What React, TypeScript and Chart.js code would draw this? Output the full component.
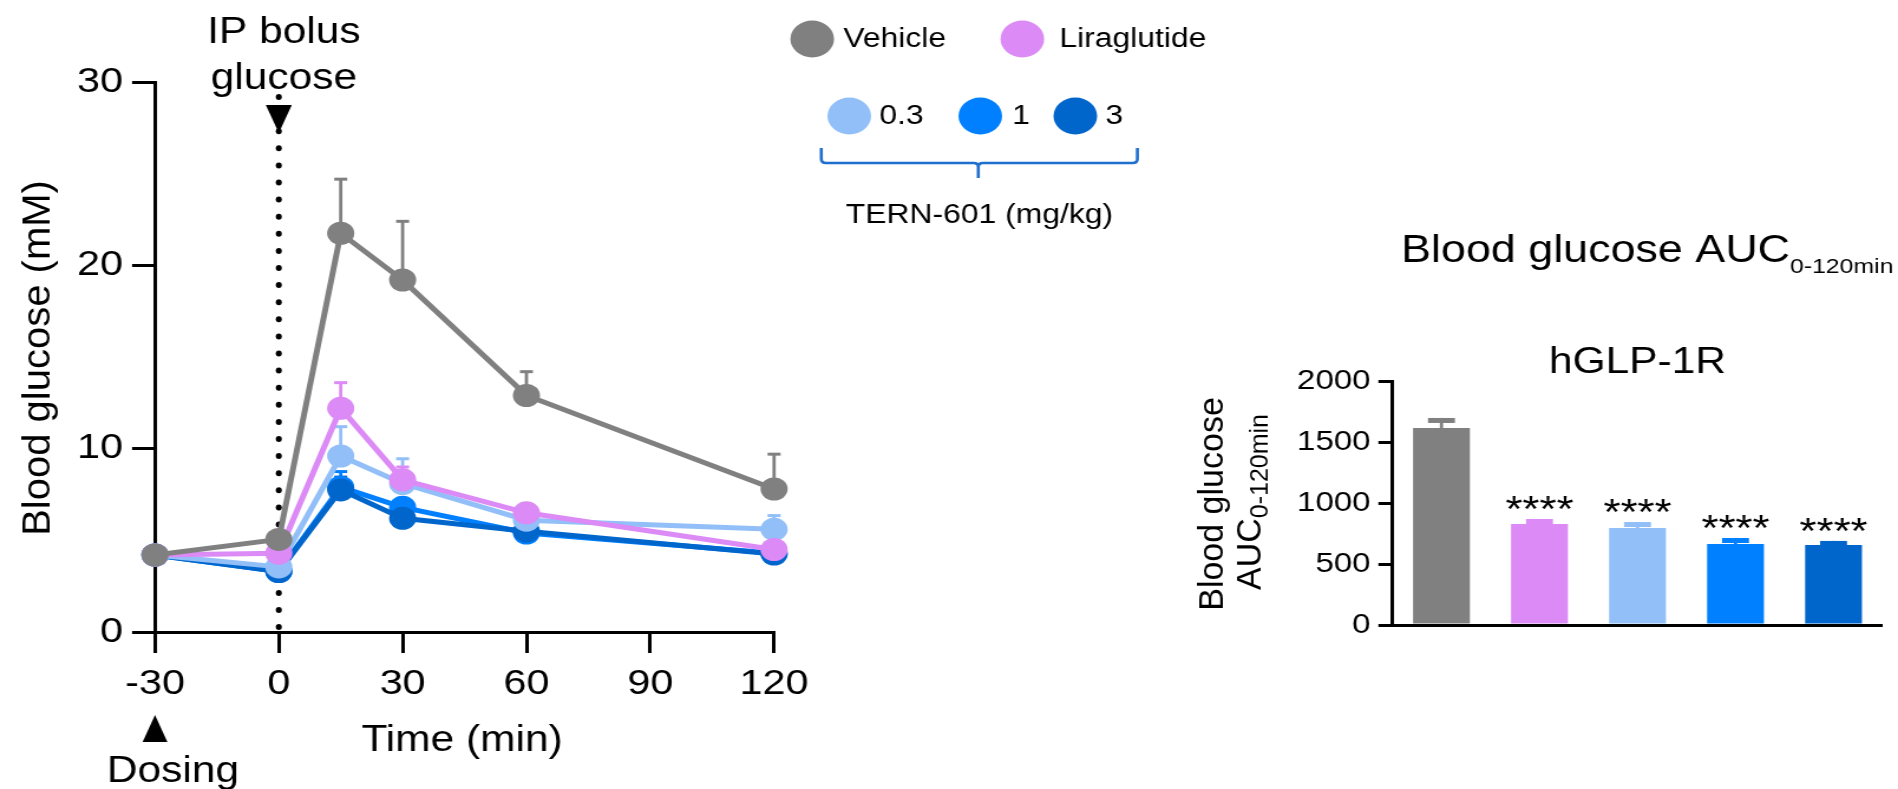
import React, { useEffect, useRef } from 'react';
import { Chart, registerables } from 'chart.js';

Chart.register(...registerables);

// ---------- page geometry (canvas is drawn narrower and stretched horizontally, like the reference) ----------
const VIEW_W = 1898;
const VIEW_H = 789;
const CANVAS_W = 1608;
const K = VIEW_W / CANVAS_W;
const FONT = '"Liberation Sans", Arimo, Arial, Helvetica, sans-serif';

// ---------- line chart data (Blood glucose, mM) ----------
const timePoints = [-30, 0, 15, 30, 60, 120];
const xTickValues = [-30, 0, 30, 60, 90, 120];
const yTickValues = [0, 10, 20, 30];

const seriesLabels = ['Vehicle', 'Liraglutide', '0.3', '1', '3'];
const seriesColors = ['#808080', '#dc8af5', '#92bff8', '#0080ff', '#0066cc'];
const drawOrder = [0, 1, 2, 4, 3];

const vehicleMean = [4.2, 5.05, 21.75, 19.2, 12.9, 7.8];
const vehicleSem = [0, 0, 2.95, 3.2, 1.3, 1.9];
const liraMean = [4.2, 4.3, 12.2, 8.3, 6.5, 4.5];
const liraSem = [0, 0, 1.4, 0.7, 0, 0];
const tern03Mean = [4.2, 3.55, 9.6, 8.1, 6.1, 5.6];
const tern03Sem = [0, 0, 1.6, 1.35, 0, 0.75];
const tern1Mean = [4.2, 3.3, 7.9, 6.8, 5.4, 4.3];
const tern1Sem = [0, 0, 0.85, 0.4, 0, 0];
const tern3Mean = [4.2, 3.3, 7.75, 6.2, 5.5, 4.25];
const tern3Sem = [0, 0, 0.7, 0.4, 0, 0];

const seriesMeans = [vehicleMean, liraMean, tern03Mean, tern1Mean, tern3Mean];
const seriesSems = [vehicleSem, liraSem, tern03Sem, tern1Sem, tern3Sem];

// ---------- bar chart data (AUC 0-120 min) ----------
const aucGroups = ['Vehicle', 'Liraglutide', 'TERN-601 0.3', 'TERN-601 1', 'TERN-601 3'];
const aucMean = [1615, 828, 795, 664, 656];
const aucSem = [82, 41, 49, 49, 33];
const aucStars = ['', '****', '****', '****', '****'];
const aucTickValues = [0, 500, 1000, 1500, 2000];

// ---------- helpers ----------
function rotatedText(ctx: CanvasRenderingContext2D, parts: { text: string; size: number; dy: number }[], x: number, y: number) {
  ctx.save();
  ctx.translate(x, y);
  ctx.scale(1 / K, 1);
  ctx.rotate(-Math.PI / 2);
  ctx.textAlign = 'left';
  ctx.textBaseline = 'alphabetic';
  let total = 0;
  const widths = parts.map((p) => {
    ctx.font = `${p.size}px ${FONT}`;
    const w = ctx.measureText(p.text).width;
    total += w;
    return w;
  });
  let cx = -total / 2;
  parts.forEach((p, i) => {
    ctx.font = `${p.size}px ${FONT}`;
    ctx.fillText(p.text, cx, p.dy);
    cx += widths[i];
  });
  ctx.restore();
}

const lineDecor = {
  id: 'lineDecor',
  beforeDatasetsDraw(chart: any) {
    const { ctx } = chart;
    const xs = chart.scales.x;
    const ys = chart.scales.y;
    const x0 = xs.getPixelForValue(0);
    ctx.save();
    // dotted line at glucose bolus
    ctx.fillStyle = '#000';
    for (let yy = 97; yy <= 628; yy += 17.1) {
      ctx.beginPath();
      ctx.ellipse(x0, yy, 3 / K, 3, 0, 0, Math.PI * 2);
      ctx.fill();
    }
    // error bars (upper SEM)
    const idx = seriesLabels.map((_, i) => i).sort((a, b) => drawOrder[b] - drawOrder[a]);
    idx.forEach((i) => {
      ctx.strokeStyle = seriesColors[i];
      timePoints.forEach((t, j) => {
        const s = seriesSems[i][j];
        if (!s) return;
        const px = xs.getPixelForValue(t);
        const p0 = ys.getPixelForValue(seriesMeans[i][j]);
        const p1 = ys.getPixelForValue(seriesMeans[i][j] + s);
        ctx.lineWidth = 2.8;
        ctx.beginPath();
        ctx.moveTo(px, p0);
        ctx.lineTo(px, p1);
        ctx.stroke();
        ctx.lineWidth = 3;
        ctx.beginPath();
        ctx.moveTo(px - 5.5, p1);
        ctx.lineTo(px + 5.5, p1);
        ctx.stroke();
      });
    });
    ctx.restore();
  },
  afterDraw(chart: any) {
    const { ctx } = chart;
    const xs = chart.scales.x;
    const x0 = xs.getPixelForValue(0);
    const xd = xs.getPixelForValue(-30);
    ctx.save();
    ctx.fillStyle = '#000';
    // bolus arrow
    ctx.beginPath();
    ctx.moveTo(x0 - 11, 105);
    ctx.lineTo(x0 + 11, 105);
    ctx.lineTo(x0, 133);
    ctx.closePath();
    ctx.fill();
    // dosing arrow
    ctx.beginPath();
    ctx.moveTo(xd, 715);
    ctx.lineTo(xd + 10.5, 742);
    ctx.lineTo(xd - 10.5, 742);
    ctx.closePath();
    ctx.fill();

    ctx.textBaseline = 'alphabetic';
    ctx.textAlign = 'center';
    ctx.font = `36px ${FONT}`;
    ctx.fillText('IP bolus', 240.5, 43);
    ctx.fillText('glucose', 240.5, 89);
    ctx.fillText('Dosing', 146.6, 782);
    ctx.fillText('Time (min)', 391.5, 751);

    rotatedText(ctx, [{ text: 'Blood glucose (mM)', size: 40, dy: 0 }], 42, 358);

    // legend
    const items = [
      { i: 0, cx: 688.1, cy: 39, tx: 714.4, ty: 47 },
      { i: 1, cx: 866.1, cy: 39, tx: 897.5, ty: 47 },
      { i: 2, cx: 719.5, cy: 116, tx: 744.9, ty: 124 },
      { i: 3, cx: 830.5, cy: 116, tx: 857.6, ty: 124 },
      { i: 4, cx: 911, cy: 116, tx: 936.4, ty: 124 },
    ];
    ctx.font = `27px ${FONT}`;
    ctx.textAlign = 'left';
    items.forEach((it) => {
      ctx.fillStyle = seriesColors[it.i];
      ctx.beginPath();
      ctx.arc(it.cx, it.cy, 18.5, 0, Math.PI * 2);
      ctx.fill();
      ctx.fillStyle = '#000';
      ctx.fillText(seriesLabels[it.i], it.tx, it.ty);
    });
    // brace
    const L = 695.8, R = 963.6, C = 828.8;
    ctx.strokeStyle = '#1f6fcf';
    ctx.lineWidth = 2.6;
    ctx.lineJoin = 'round';
    ctx.beginPath();
    ctx.moveTo(L, 148);
    ctx.lineTo(L, 159);
    ctx.quadraticCurveTo(L, 163, L + 4, 163);
    ctx.lineTo(C - 4, 163);
    ctx.quadraticCurveTo(C, 163, C, 167);
    ctx.lineTo(C, 178);
    ctx.moveTo(C, 167);
    ctx.quadraticCurveTo(C, 163, C + 4, 163);
    ctx.lineTo(R - 4, 163);
    ctx.quadraticCurveTo(R, 163, R, 159);
    ctx.lineTo(R, 148);
    ctx.stroke();
    ctx.fillStyle = '#000';
    ctx.textAlign = 'center';
    ctx.fillText('TERN-601 (mg/kg)', 829.7, 223);
    ctx.restore();
  },
};

const barDecor = {
  id: 'barDecor',
  afterDatasetsDraw(chart: any) {
    const { ctx } = chart;
    const ys = chart.scales.y;
    const meta = chart.getDatasetMeta(0);
    ctx.save();
    meta.data.forEach((el: any, i: number) => {
      const top = ys.getPixelForValue(aucMean[i] + aucSem[i]);
      ctx.fillStyle = seriesColors[i];
      ctx.fillRect(el.x - 1.4, top, 2.8, el.y - top);
      ctx.fillRect(el.x - 11.4, top, 22.8, 5);
      if (aucStars[i]) {
        ctx.fillStyle = '#000';
        ctx.font = `37px ${FONT}`;
        ctx.textAlign = 'center';
        ctx.textBaseline = 'alphabetic';
        ctx.fillText(aucStars[i], el.x, top + 3);
      }
    });
    ctx.restore();
  },
  afterDraw(chart: any) {
    const { ctx, chartArea } = chart;
    ctx.save();
    ctx.fillStyle = '#000';
    ctx.textBaseline = 'alphabetic';
    ctx.textAlign = 'left';
    ctx.font = `38px ${FONT}`;
    const main = 'Blood glucose AUC';
    ctx.fillText(main, 1187, 262);
    const w = ctx.measureText(main).width;
    ctx.font = `21px ${FONT}`;
    ctx.fillText('0-120min', 1187 + w, 273);
    ctx.textAlign = 'center';
    ctx.font = `36px ${FONT}`;
    ctx.fillText('hGLP-1R', (chartArea.left + chartArea.right) / 2, 373);
    rotatedText(ctx, [{ text: 'Blood glucose', size: 34, dy: 0 }], 1036.4, 504);
    rotatedText(
      ctx,
      [
        { text: 'AUC', size: 34, dy: 0 },
        { text: '0-120min', size: 25, dy: 7 },
      ],
      1068,
      502
    );
    ctx.restore();
  },
};

const axisStyle = {
  grid: { drawOnChartArea: false, drawTicks: true, lineWidth: 3, color: '#000' },
  border: { display: true, color: '#000', width: 3 },
};

const plainNumber = (v: any) => String(v);

export default function App() {
  const lineRef = useRef<HTMLCanvasElement | null>(null);
  const barRef = useRef<HTMLCanvasElement | null>(null);

  useEffect(() => {
    if (!lineRef.current || !barRef.current) return;

    const lineChart = new Chart(lineRef.current, {
      type: 'line',
      data: {
        datasets: seriesLabels.map((label, i) => ({
          label,
          data: timePoints.map((t, j) => ({ x: t, y: seriesMeans[i][j] })),
          borderColor: seriesColors[i],
          backgroundColor: seriesColors[i],
          pointBackgroundColor: seriesColors[i],
          pointBorderColor: seriesColors[i],
          pointBorderWidth: 0,
          pointRadius: 11.5,
          pointHoverRadius: 11.5,
          borderWidth: 5,
          tension: 0,
          fill: false,
          clip: false as any,
          order: drawOrder[i],
        })),
      },
      options: {
        responsive: false,
        animation: false,
        devicePixelRatio: 1,
        events: [],
        layout: { padding: { left: 0, top: 82, right: CANVAS_W - 655.8, bottom: 0 } },
        plugins: { legend: { display: false }, tooltip: { enabled: false } },
        scales: {
          x: {
            type: 'linear',
            min: -30,
            max: 120,
            afterBuildTicks: (s: any) => {
              s.ticks = xTickValues.map((v) => ({ value: v }));
            },
            afterFit: (s: any) => {
              s.height = VIEW_H - 632;
            },
            ticks: { color: '#000', font: { family: FONT, size: 35 }, padding: 10, maxRotation: 0, autoSkip: false, callback: plainNumber },
            grid: { ...axisStyle.grid, tickLength: 21 },
            border: axisStyle.border,
          },
          y: {
            type: 'linear',
            min: 0,
            max: 30,
            afterBuildTicks: (s: any) => {
              s.ticks = yTickValues.map((v) => ({ value: v }));
            },
            afterFit: (s: any) => {
              s.width = 131.3;
            },
            ticks: { color: '#000', font: { family: FONT, size: 35 }, padding: 7.7, autoSkip: false, callback: plainNumber },
            grid: { ...axisStyle.grid, tickLength: 19.4 },
            border: axisStyle.border,
          },
        },
      } as any,
      plugins: [lineDecor],
    });

    const barChart = new Chart(barRef.current, {
      type: 'bar',
      data: {
        labels: aucGroups,
        datasets: [
          {
            label: 'AUC',
            data: aucMean,
            backgroundColor: seriesColors,
            borderWidth: 0,
            barPercentage: 0.58,
            categoryPercentage: 1,
          },
        ],
      },
      options: {
        responsive: false,
        animation: false,
        devicePixelRatio: 1,
        events: [],
        layout: { padding: { left: 0, top: 381, right: CANVAS_W - 1594.9, bottom: 0 } },
        plugins: { legend: { display: false }, tooltip: { enabled: false } },
        scales: {
          x: {
            type: 'category',
            ticks: { display: false },
            grid: { display: false },
            border: axisStyle.border,
            afterFit: (s: any) => {
              s.height = VIEW_H - 625;
            },
          },
          y: {
            type: 'linear',
            min: 0,
            max: 2000,
            afterBuildTicks: (s: any) => {
              s.ticks = aucTickValues.map((v) => ({ value: v }));
            },
            afterFit: (s: any) => {
              s.width = 1179.7;
            },
            ticks: { color: '#000', font: { family: FONT, size: 28 }, padding: 6.7, autoSkip: false, callback: plainNumber },
            grid: { ...axisStyle.grid, tickLength: 11.9 },
            border: axisStyle.border,
          },
        },
      } as any,
      plugins: [barDecor],
    });

    return () => {
      lineChart.destroy();
      barChart.destroy();
    };
  }, []);

  const canvasStyle: React.CSSProperties = {
    position: 'absolute',
    left: 0,
    top: 0,
    width: `${VIEW_W}px`,
    height: `${VIEW_H}px`,
  };

  return (
    <div style={{ position: 'absolute', left: 0, top: 0, width: VIEW_W, height: VIEW_H, background: '#fff', overflow: 'hidden' }}>
      <canvas ref={lineRef} width={CANVAS_W} height={VIEW_H} style={canvasStyle} />
      <canvas ref={barRef} width={CANVAS_W} height={VIEW_H} style={canvasStyle} />
    </div>
  );
}
